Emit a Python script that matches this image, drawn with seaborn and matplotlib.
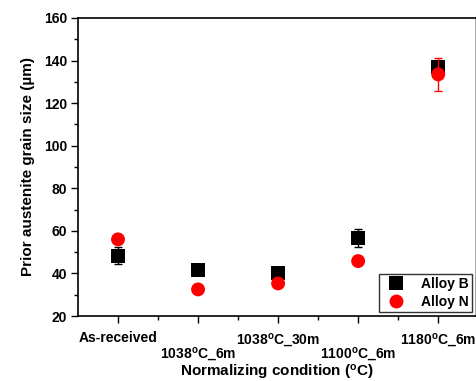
import numpy as np
import pandas as pd
import matplotlib
matplotlib.use("Agg")
import matplotlib.pyplot as plt
import seaborn as sns

sns.set_theme(style="ticks")
plt.rcParams["font.family"] = ["Liberation Sans", "DejaVu Sans"]
plt.rcParams["font.weight"] = "bold"
plt.rcParams["mathtext.fontset"] = "custom"
plt.rcParams["mathtext.rm"] = "Liberation Sans:bold"
plt.rcParams["mathtext.it"] = "Liberation Sans:bold"
plt.rcParams["mathtext.bf"] = "Liberation Sans:bold"
for key in ["text.color", "axes.labelcolor", "xtick.color", "ytick.color"]:
    plt.rcParams[key] = "black"

# --- data ---
conditions = ["As-received", "1038$^{\\mathrm{o}}$C_6m", "1038$^{\\mathrm{o}}$C_30m",
              "1100$^{\\mathrm{o}}$C_6m", "1180$^{\\mathrm{o}}$C_6m"]
alloy_b = [48.3, 41.5, 40.0, 56.5, 137.0]
alloy_b_err = [4.0, 0.8, 0.8, 4.2, 2.5]
alloy_n = [56.0, 32.5, 35.3, 45.8, 133.5]
alloy_n_err = [0.8, 0.8, 0.8, 2.0, 7.7]

pos = np.arange(1, len(conditions) + 1)
df = pd.DataFrame({
    "pos": np.concatenate([pos, pos]),
    "size": alloy_b + alloy_n,
    "alloy": ["Alloy B"] * len(pos) + ["Alloy N"] * len(pos),
})

fig = plt.figure(figsize=(4.77, 3.81), dpi=100)
ax = fig.add_axes([0.1635, 0.1706, 0.834, 0.7822])

ax.errorbar(pos, alloy_b, yerr=alloy_b_err, fmt="none", ecolor="black",
            elinewidth=1, capsize=3, capthick=1, zorder=2)
sns.scatterplot(data=df, x="pos", y="size", hue="alloy", style="alloy",
                markers={"Alloy B": "s", "Alloy N": "o"},
                palette={"Alloy B": "black", "Alloy N": "#ff0000"},
                s=100, edgecolor="none", linewidth=0, ax=ax, zorder=3)
ax.errorbar(pos, alloy_n, yerr=alloy_n_err, fmt="none", ecolor="#ff0000",
            elinewidth=1, capsize=3, capthick=1, zorder=4)

ax.set_xlim(0.5, 5.47)
ax.set_ylim(20, 160)
ax.set_yticks(np.arange(20, 161, 20))
ax.set_yticks(np.arange(30, 160, 20), minor=True)
ax.set_xticks(pos)
ax.set_xticks(pos[:-1] + 0.5, minor=True)
ax.set_xticklabels(conditions)
ax.tick_params(axis="both", which="major", direction="out", length=5,
               width=1, labelsize=10, pad=3)
ax.tick_params(axis="both", which="minor", direction="out", length=3, width=1)
ax.tick_params(axis="x", pad=6)
for i, lab in enumerate(ax.get_xticklabels()):
    lab.set_fontweight("bold")
    if i % 2 == 1:
        lab.set_y(-0.048)
for lab in ax.get_yticklabels():
    lab.set_fontweight("bold")

for side in ["left", "bottom", "top"]:
    ax.spines[side].set_linewidth(1.2)
    ax.spines[side].set_color("black")
ax.spines["right"].set_color("#999999")
ax.spines["right"].set_linewidth(1.2)

ax.set_xlabel("Normalizing condition ($^{\\mathrm{o}}$C)", fontsize=11,
              fontweight="bold")
ax.xaxis.set_label_coords(0.5, -0.158)
ax.set_ylabel("Prior austenite grain size (\u00b5m)", fontsize=11,
              fontweight="bold", labelpad=6)

leg = ax.legend(loc="lower right", frameon=True, fancybox=False,
                edgecolor="black", fontsize=10, borderpad=0.2,
                handletextpad=0.8, borderaxespad=0.3, labelspacing=0.3)
leg.get_frame().set_linewidth(1)
for t in leg.get_texts():
    t.set_fontweight("bold")

fig.savefig("out.png", dpi=100)
